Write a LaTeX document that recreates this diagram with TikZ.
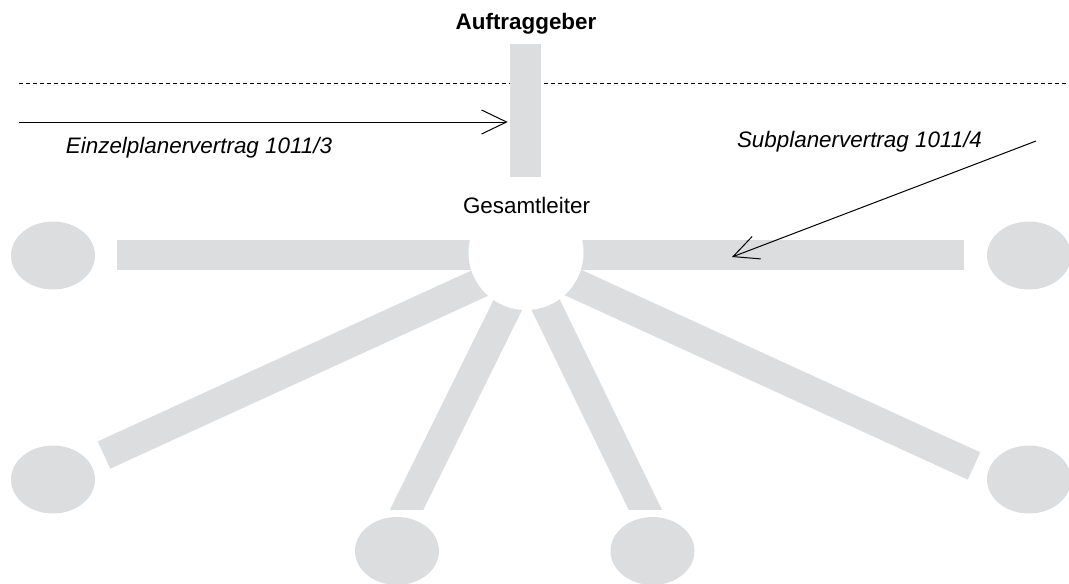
\documentclass[tikz,border=0pt]{standalone}
\usepackage{fontspec}
\setmainfont{Liberation Sans}
\usetikzlibrary{arrows.meta,shapes.geometric}
\definecolor{bargray}{RGB}{220,221,223}

\begin{document}
\begin{tikzpicture}[x=0.75pt,y=-0.75pt,>={Straight Barb[length=18.75pt,width=18pt]},
  bar/.style={draw=bargray,line width=22.5pt},
  party node/.style={ellipse,fill=bargray,minimum width=63pt,minimum height=51pt,inner sep=0pt},
  label node/.style={inner sep=0pt,anchor=base,font=\fontsize{16.8pt}{20pt}\selectfont},
  contract/.style={->,line width=0.75pt}]

  \useasboundingbox (0,0) rectangle (1069,583);

  % Auftraggeber oben
  \node[label node,font=\fontsize{16.8pt}{20pt}\selectfont\bfseries] (ag) at (526,29.3) {Auftraggeber};
  \coordinate (d1) at (19,83);
  \coordinate (d2) at (1069,83);
  \draw[dash pattern=on 3pt off 2.25pt,line width=0.75pt] (d1) -- (d2);
  \node[fill=bargray,minimum width=23.25pt,minimum height=99.75pt,inner sep=0pt] (agbar) at (525.5,110.5) {};

  % Vertraege
  \coordinate (ez) at (19,122);
  \draw[contract,shorten >=1.5pt] (ez) -- (agbar.west |- ez);
  \node[label node,font=\fontsize{16.8pt}{20pt}\selectfont\itshape] (ezl) at (199,153) {Einzelplanervertrag 1011/3};
  \node[label node,font=\fontsize{16.8pt}{20pt}\selectfont\itshape] (spl) at (859.5,147) {Subplanervertrag 1011/4};

  % Gesamtleiter mit Strahlen
  \coordinate (hub) at (526,252.5);
  \coordinate (b1) at (117,254.5);
  \coordinate (b2) at (964,254.5);
  \coordinate (b3) at (104,455);
  \coordinate (b4) at (974,466);
  \draw[bar] (b1 -| hub) -- (b1);
  \draw[bar] (b2 -| hub) -- (b2);
  \draw[bar] (526,262) -- (b3);
  \draw[bar] (526,261) -- (b4);
  \begin{scope}
    \clip (0,0) rectangle (1069,509);
    \coordinate (b5) at (391.7,540);
    \coordinate (b6) at (660,540);
    \draw[bar] (534,252) -- (b5);
    \draw[bar] (520,252) -- (b6);
  \end{scope}
  \node[circle,fill=white,minimum size=86.25pt,inner sep=0pt] (gl) at (hub) {};
  \node[label node] (gll) at (526.5,213) {Gesamtleiter};

  \node[party node] (1) at (53,255.5) {};
  \node[party node] (2) at (1029,255.5) {};
  \node[party node] (3) at (53,479.5) {};
  \node[party node] (4) at (1029,479.5) {};
  \node[party node] (5) at (397,551) {};
  \node[party node] (6) at (652.5,551) {};

  \coordinate (sp) at (1036,141);
  \coordinate (spe) at (732,257);
  \draw[contract] (sp) -- (spe);

\end{tikzpicture}
\end{document}
